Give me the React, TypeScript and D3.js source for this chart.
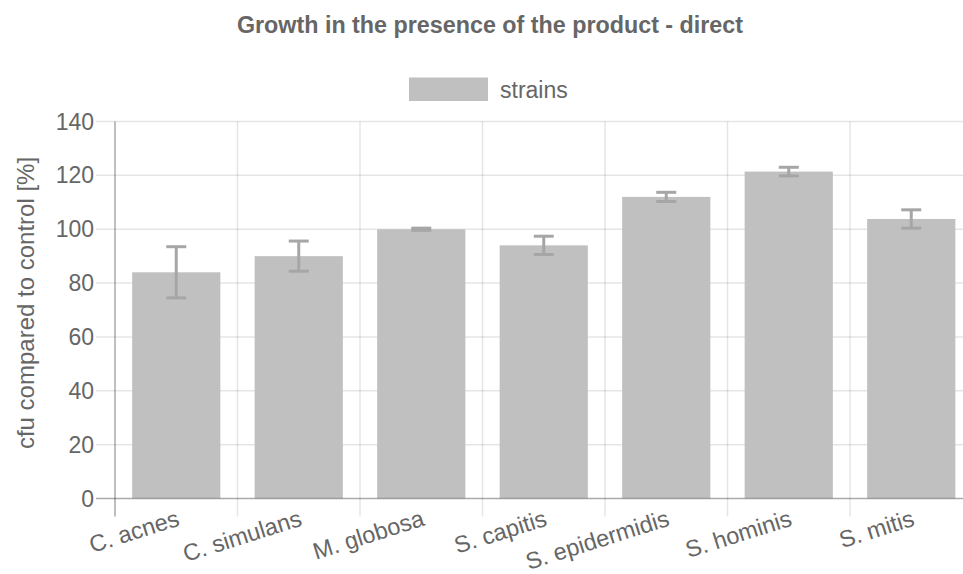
import React, { useEffect, useRef } from 'react';
import * as d3 from 'd3';

const categories = ['C. acnes', 'C. simulans', 'M. globosa', 'S. capitis', 'S. epidermidis', 'S. hominis', 'S. mitis'];
const values = [84, 90, 100, 94, 112, 121.4, 103.8];
const errors = [9.5, 5.6, 0.4, 3.4, 1.7, 1.6, 3.4];
const yTicks = [0, 20, 40, 60, 80, 100, 120, 140];

const W = 963;
const H = 574;
const FONT = '"Liberation Sans", Arial, sans-serif';

const App: React.FC = () => {
    const svgRef = useRef<SVGSVGElement>(null);

    useEffect(() => {
        if (!svgRef.current) return;
        const svg = d3.select(svgRef.current);
        svg.selectAll('*').remove();

        const margin = { top: 121.5, left: 115, bottom: 498.5, right: 972.5 };

        const x = d3.scaleBand<string>()
            .domain(categories)
            .range([margin.left, margin.right])
            .padding(0);

        const y = d3.scaleLinear()
            .domain([0, 140])
            .range([margin.bottom, margin.top]);

        // title
        svg.append('text')
            .attr('x', 490)
            .attr('y', 25)
            .attr('text-anchor', 'middle')
            .attr('dominant-baseline', 'central')
            .attr('font-family', FONT)
            .attr('font-weight', 'bold')
            .attr('font-size', 23.3)
            .attr('fill', '#666')
            .text('Growth in the presence of the product - direct');

        // legend
        svg.append('rect')
            .attr('x', 409).attr('y', 77.5)
            .attr('width', 79).attr('height', 23.5)
            .attr('fill', '#c0c0c0');
        svg.append('text')
            .attr('x', 500).attr('y', 89.5)
            .attr('dominant-baseline', 'central')
            .attr('font-family', FONT)
            .attr('font-size', 23)
            .attr('fill', '#666')
            .text('strains');

        // horizontal grid
        svg.append('g')
            .selectAll('line')
            .data(yTicks)
            .join('line')
            .attr('x1', 96).attr('x2', W)
            .attr('y1', d => y(d)).attr('y2', d => y(d))
            .attr('stroke', 'rgba(0,0,0,0.1)')
            .attr('stroke-width', 1.5);

        // vertical grid at category boundaries
        const bounds = categories.map(c => x(c)!).concat([margin.right]);
        svg.append('g')
            .selectAll('line')
            .data(bounds)
            .join('line')
            .attr('x1', d => d).attr('x2', d => d)
            .attr('y1', margin.top).attr('y2', margin.bottom + 18)
            .attr('stroke', 'rgba(0,0,0,0.1)')
            .attr('stroke-width', 1.5);

        // y tick labels
        svg.append('g')
            .selectAll('text')
            .data(yTicks)
            .join('text')
            .attr('x', 94)
            .attr('y', d => y(d))
            .attr('text-anchor', 'end')
            .attr('dominant-baseline', 'central')
            .attr('font-family', FONT)
            .attr('font-size', 23)
            .attr('fill', '#666')
            .text(d => d);

        // y axis title
        svg.append('text')
            .attr('transform', `translate(25, 303) rotate(-90)`)
            .attr('text-anchor', 'middle')
            .attr('dominant-baseline', 'central')
            .attr('font-family', FONT)
            .attr('font-size', 24)
            .attr('fill', '#666')
            .text('cfu compared to control [%]');

        // bars
        const bw = x.bandwidth() * 0.72;
        svg.append('g')
            .selectAll('rect')
            .data(values)
            .join('rect')
            .attr('x', (d, i) => x(categories[i])! + (x.bandwidth() - bw) / 2)
            .attr('y', d => y(d))
            .attr('width', bw)
            .attr('height', d => y(0) - y(d))
            .attr('fill', '#c0c0c0');

        // error bars
        const eg = svg.append('g')
            .attr('stroke', '#a6a6a6')
            .attr('stroke-width', 3);
        values.forEach((v, i) => {
            const cx = x(categories[i])! + x.bandwidth() / 2;
            const hi = y(v + errors[i]);
            const lo = y(v - errors[i]);
            eg.append('line').attr('x1', cx).attr('x2', cx).attr('y1', hi).attr('y2', lo);
            eg.append('line').attr('x1', cx - 10).attr('x2', cx + 10).attr('y1', hi).attr('y2', hi);
            eg.append('line').attr('x1', cx - 10).attr('x2', cx + 10).attr('y1', lo).attr('y2', lo);
        });

        // axis lines
        svg.append('line')
            .attr('x1', margin.left).attr('x2', margin.left)
            .attr('y1', margin.top).attr('y2', margin.bottom + 18)
            .attr('stroke', 'rgba(0,0,0,0.25)')
            .attr('stroke-width', 1.5);
        svg.append('line')
            .attr('x1', 96).attr('x2', W)
            .attr('y1', margin.bottom).attr('y2', margin.bottom)
            .attr('stroke', 'rgba(0,0,0,0.25)')
            .attr('stroke-width', 1.5);

        // x tick labels, rotated
        svg.append('g')
            .selectAll('text')
            .data(categories)
            .join('text')
            .attr('transform', d => `translate(${x(d)! + x.bandwidth() / 2 + 2}, ${margin.bottom + 19}) rotate(-17.5)`)
            .attr('text-anchor', 'end')
            .attr('dominant-baseline', 'central')
            .attr('font-family', FONT)
            .attr('font-size', 23.5)
            .attr('fill', '#666')
            .text(d => d);
    }, []);

    return (
        <div style={{ position: 'absolute', left: 0, top: 0, width: W, height: H, background: '#fff' }}>
            <svg ref={svgRef} width={W} height={H} />
        </div>
    );
};

export default App;
